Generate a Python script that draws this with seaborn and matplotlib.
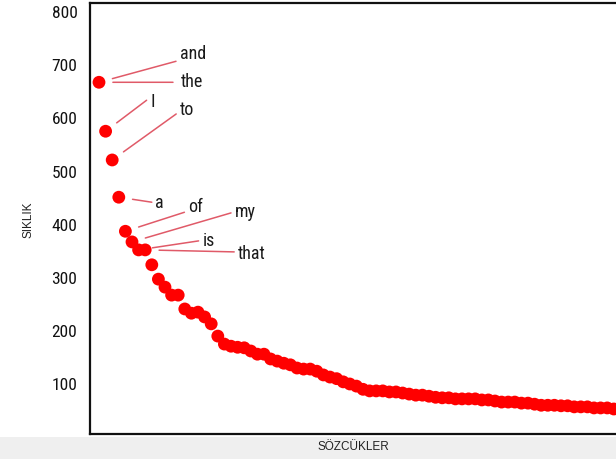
import matplotlib
matplotlib.use("Agg")
import matplotlib.pyplot as plt
from matplotlib import font_manager
from matplotlib.patches import Rectangle
import seaborn as sns
import pandas as pd

# ---- data ----
frequencies = [666, 574, 520, 450, 386, 366, 351, 351, 323, 296,
               281, 266, 266, 240, 232, 234, 225, 212, 189, 174,
               170, 168, 167, 161, 155, 155, 146, 142, 138, 135,
               129, 127, 127, 123, 116, 112, 109, 103, 99, 95,
               89, 86, 86, 86, 84, 84, 82, 80, 78, 78,
               76, 74, 73, 73, 71, 71, 71, 71, 69, 69,
               67, 65, 65, 65, 63, 63, 61, 59, 59, 59,
               58, 58, 56, 56, 56, 54, 54, 54, 52]
ranks = list(range(len(frequencies)))
words = ["and", "the", "I", "to", "a", "of", "my", "is", "that"]
word_rank = [0, 0, 1, 2, 3, 4, 5, 6, 7]
y_ticks = [100, 200, 300, 400, 500, 600, 700, 800]

# ---- layout (pixel offsets of label text / line end from the dot) ----
text_offsets = [(81, 29), (82, 1), (45, 30), (68, 51), (36, -5),
                (63, 25), (103, 31), (64, 10), (93, -3)]
line_offsets = [(77, 21), (74, 0), (41, 31), (64, 46), (33, -5),
                (59, 19), (99, 29), (60, 9), (89, -2)]

sns.set_theme(style="white")

entries = font_manager.fontManager.ttflist
names = {f.name for f in entries}
narrow = None
for cand in ["Liberation Sans Narrow", "Roboto Condensed", "Open Sans Condensed",
             "Noto Sans Condensed", "DejaVu Sans Condensed"]:
    if cand in names:
        narrow = dict(family=cand)
        break
if narrow is None:
    cond = [f for f in entries if str(f.stretch) in ("condensed", "semi-condensed", "500", "75")
            or "Condensed" in f.fname or "Narrow" in f.fname]
    if cond:
        narrow = dict(fname=cond[0].fname)
if narrow is None:
    narrow = dict(family="Liberation Sans" if "Liberation Sans" in names else "DejaVu Sans")
plain_family = "Liberation Sans" if "Liberation Sans" in names else "DejaVu Sans"
plt.rcParams["font.family"] = [plain_family, "DejaVu Sans"]


def nfont(size):
    return font_manager.FontProperties(size=size, **narrow)


W, H = 616, 460
fig = plt.figure(figsize=(W / 100, H / 100), dpi=100)
fig.patch.set_facecolor("white")
fig.patches.append(Rectangle((0, 0), 1, 22 / H, transform=fig.transFigure,
                             facecolor="#efefef", edgecolor="none", zorder=-10))

ax = fig.add_axes([90 / W, 25 / H, (W - 90) / W, (H - 4 - 25) / H])
ax.set_facecolor("white")

df = pd.DataFrame({"rank": ranks, "freq": frequencies})
sns.scatterplot(data=df, x="rank", y="freq", ax=ax, color="#ff0000",
                s=85, edgecolor="none", linewidth=0, zorder=3)

px = 6.6  # pixels per rank
ax.set_xlim(-9 / px, (W - 99) / px)
ax.set_ylim(5, 815)
ax.set_yticks(y_ticks)
ax.set_xticks([])
ax.tick_params(axis="y", length=0, pad=9)
for lab in ax.get_yticklabels():
    lab.set_fontproperties(nfont(12.5))
    lab.set_color("#111111")

for side in ["left", "bottom", "top"]:
    ax.spines[side].set_color("#111111")
    ax.spines[side].set_linewidth(1.6)
ax.spines["right"].set_visible(False)

ax.set_xlabel("SÖZCÜKLER", fontsize=8.5, color="#222222", labelpad=4)
ax.set_ylabel("SIKLIK", fontsize=8.5, color="#222222")
ax.yaxis.set_label_coords(-55 / (W - 90), 0.5)

line_color = "#e05a68"
for w, r, (tx, ty), (lx, ly) in zip(words, word_rank, text_offsets, line_offsets):
    xv, yv = ranks[r], frequencies[r]
    ax.annotate("", xy=(xv, yv), xycoords="data",
                xytext=(lx, ly), textcoords="offset pixels",
                arrowprops=dict(arrowstyle="-", color=line_color, lw=1.1,
                                shrinkA=0, shrinkB=10))
    ax.annotate(w, xy=(xv, yv), xycoords="data",
                xytext=(tx, ty), textcoords="offset pixels",
                ha="left", va="center", color="#1a1a1a",
                fontproperties=nfont(13))

fig.savefig("out.png", dpi=100)
